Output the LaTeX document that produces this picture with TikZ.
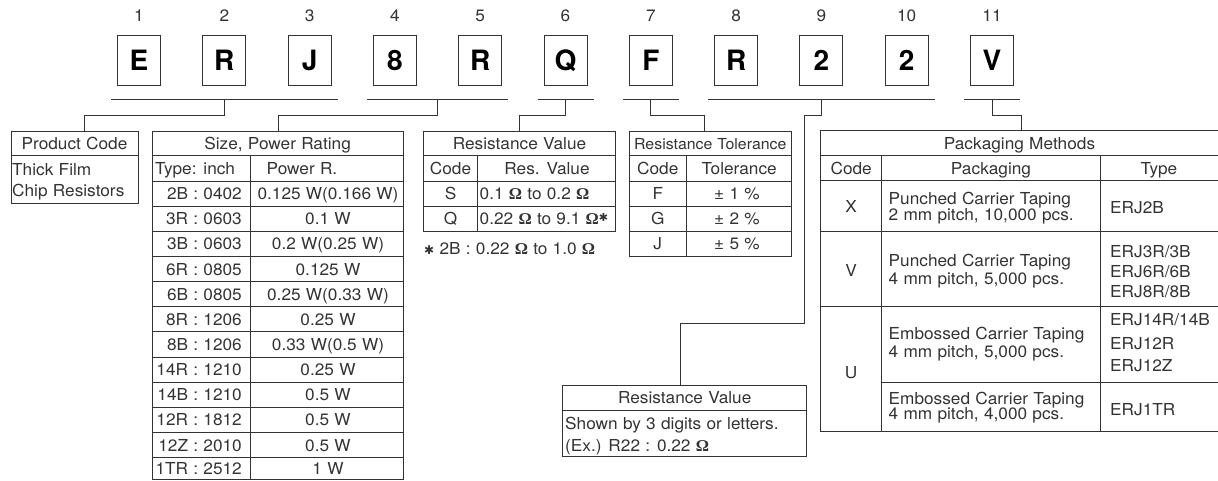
\documentclass[tikz,border=0pt]{standalone}
\usepackage{fontspec}
\usetikzlibrary{calc}
\setmainfont{TeX Gyre Heros}[FakeStretch=1.045,WordSpace=1.1]
\newfontfamily\boxfont{TeX Gyre Heros}
\newfontfamily\symfont{DejaVu Sans}
\newfontfamily\omfont{Liberation Serif}
\newcommand\fs{\fontsize{16.5}{17.5}\selectfont}
\newcommand\Om{{\omfont\bfseries Ω}}
\definecolor{ink}{gray}{0.2}
\tikzset{
  base/.style={inner sep=0pt, text=ink, font=\fs, text height=12pt, text depth=0pt},
  lft/.style={base, anchor=west},
  rgt/.style={base, anchor=east},
  letterbox/.style={draw=ink, line width=1pt, minimum width=43pt, minimum height=50pt,
    inner sep=0pt, text height=20pt, text depth=0pt,
    font=\boxfont\bfseries\fontsize{28}{28}\selectfont, text=black},
  rule/.style={draw=ink, line width=1pt},
  conn/.style={draw=ink, line width=1pt},
}
\begin{document}
\begin{tikzpicture}[x=1pt,y=-1pt]
\useasboundingbox (0,0) rectangle (1218,480);
% code letters
\foreach \i/\l in {1/E,2/R,3/J,4/8,5/R,6/Q,7/F,8/R,9/2,10/2,11/V}{
  \node[letterbox] (b\i) at ({139+85.3*(\i-1)},60) {\l};
  \node[base] (n\i) at ({139+85.3*(\i-1)},15) {\i};
}
% group rules
\foreach \g/\a/\b in {1/1/3,2/4/5,3/6/6,4/7/7,5/8/10,6/11/11}{
  \coordinate (gl\g) at ($(b\a.center)+(-28,39)$);
  \coordinate (gr\g) at ($(b\b.center)+(28,39)$);
  \coordinate (g\g) at ($(gl\g)!0.5!(gr\g)$);
  \draw[rule] (gl\g) -- (gr\g);
}
% connector targets
\coordinate (pcin) at (84,131);
\coordinate (szin) at (278,131);
\coordinate (rvin) at (519.5,131);
\coordinate (tlin) at (704.3,131);
\coordinate (pkin) at (1021,130.7);
\coordinate (rbin) at (680,385.3);
\draw[conn] (g1) -- ++(0,16) -| (pcin);
\draw[conn] (g2) -- ++(0,16) -| (szin);
\draw[conn] (g3) -- ++(0,16) -| (rvin);
\draw[conn] (g4) -- ++(0,16) -| (tlin);
\draw[conn] (g6) -- ++(0,16) -| (pkin);
\draw[conn] (g5) -- ++(0,16) -- (804,115) -- (804,323) -| (rbin);

% ---------- Product Code
\draw[rule] (11,131) rectangle (138,203);
\draw[rule] (11,155.5) -- (138,155.5);
\node[base] (pch) at (74.5,143) {Product Code};
\node[lft] (pc1) at (12,169) {Thick Film};
\node[lft] (pc2) at (12,190) {Chip Resistors};

% ---------- Size, Power Rating
\draw[rule] (152,131) rectangle (403.3,479);
\draw[rule] (152,155.5) -- (403.3,155.5);
\draw[rule] (250,155.5) -- (250,479);
\foreach \k in {0,...,11}{\draw[rule] (152,181+25.15*\k) -- (403.3,181+25.15*\k);}
\node[base] (szh) at (277.6,143) {Size, Power Rating};
\node[lft] (szt) at (155,168.2) {Type: inch};
\node[base] (szp) at (302,168.2) {Power R.};
\foreach \a/\b [count=\k from 0] in {2B : 0402/0.125 W(0.166 W),3R : 0603/0.1 W,3B : 0603/0.2 W(0.25 W),6R : 0805/0.125 W,6B : 0805/0.25 W(0.33 W),8R : 1206/0.25 W,8B : 1206/0.33 W(0.5 W),14R : 1210/0.25 W,14B : 1210/0.5 W,12R : 1812/0.5 W,12Z : 2010/0.5 W}{
  \node[rgt] (sa\k) at (242,193.6+25.15*\k) {\a};
  \node[base] (sb\k) at (328,193.6+25.15*\k) {\b};
}
\node[rgt] (sa11) at (242,468.5) {1TR : 2512};
\node[base] (sb11) at (328,468.5) {1 W};

% ---------- Resistance Value
\draw[rule] (423.3,131) rectangle (615.7,231);
\draw[rule] (423.3,155.3) -- (615.7,155.3);
\draw[rule] (423.3,181) -- (615.7,181);
\draw[rule] (423.3,206) -- (615.7,206);
\draw[rule] (477.7,155.3) -- (477.7,231);
\node[base] (rvh) at (519.5,143) {Resistance Value};
\node[base] (rvc) at (450.5,168.2) {Code};
\node[base] (rvr) at (547,168.2) {Res. Value};
\node[base] (rv1) at (450.5,193.5) {S};
\node[lft] (rv2) at (479.5,193.5) {0.1 \Om\ to 0.2 \Om};
\node[base] (rv3) at (450.5,218.5) {Q};
\node[lft] (rv4) at (479.5,218.5) {0.22 \Om\ to 9.1 \Om\raisebox{3pt}{\symfont\fontsize{11}{11}\selectfont ✱}};
\node[lft] (rvf) at (424,248) {{\symfont\fontsize{12}{12}\selectfont ✱} 2B : 0.22 \Om\ to 1.0 \Om};

% ---------- Resistance Tolerance
\draw[rule] (629,131) rectangle (791.7,256);
\draw[rule] (629,155.3) -- (791.7,155.3);
\foreach \yy in {181,206,231}{\draw[rule] (629,\yy) -- (791.7,\yy);}
\draw[rule] (686.7,155.3) -- (686.7,256);
\node[base, font=\fontsize{15.2}{15.5}\selectfont] (tlh) at (710.3,143) {Resistance Tolerance};
\node[base] (tlc) at (657.8,168.2) {Code};
\node[base] (tlt) at (739.2,168.2) {Tolerance};
\foreach \c/\t [count=\k from 0] in {F/1,G/2,J/5}{
  \node[base] (tc\k) at (657.8,193.5+25*\k) {\c};
  \node[base] (tv\k) at (737,193.5+25*\k) {± \t\ \%};
}

% ---------- Packaging Methods
\draw[rule] (1218,130.7) -- (820.7,130.7) -- (820.7,431.7) -- (1218,431.7);
\draw[rule] (820.7,155) -- (1218,155);
\draw[rule] (820.7,180) -- (1218,180);
\draw[rule] (820.7,231) -- (1218,231);
\draw[rule] (820.7,306.5) -- (1218,306.5);
\draw[rule] (881.5,382) -- (1218,382);
\draw[rule] (881.5,155) -- (881.5,431.7);
\draw[rule] (1100.5,155) -- (1100.5,431.7);
\node[base] (pkh) at (1019.5,143) {Packaging Methods};
\node[base] (pkc) at (851.2,168) {Code};
\node[base] (pkp) at (991,168) {Packaging};
\node[base] (pkt) at (1159,168) {Type};
% X
\node[base] (px) at (851.2,206.5) {X};
\node[lft] (px1) at (888.5,198.5) {Punched Carrier Taping};
\node[lft] (px2) at (888.5,214.5) {2 mm pitch, 10,000 pcs.};
\node[lft] (px3) at (1110,207) {ERJ2B};
% V
\node[base] (pv) at (851.2,270.5) {V};
\node[lft] (pv1) at (888.5,260) {Punched Carrier Taping};
\node[lft] (pv2) at (888.5,278) {4 mm pitch, 5,000 pcs.};
\node[lft] (pv3) at (1110,251.5) {ERJ3R/3B};
\node[lft] (pv4) at (1110,271) {ERJ6R/6B};
\node[lft] (pv5) at (1110,291) {ERJ8R/8B};
% U
\node[base] (pu) at (851.2,372) {U};
\node[lft] (pu1) at (888.5,333) {Embossed Carrier Taping};
\node[lft] (pu2) at (888.5,351) {4 mm pitch, 5,000 pcs.};
\node[lft] (pu3) at (1110,319) {ERJ14R/14B};
\node[lft] (pu4) at (1110,343) {ERJ12R};
\node[lft] (pu5) at (1110,365) {ERJ12Z};
\node[lft] (pu6) at (888.5,398) {Embossed Carrier Taping};
\node[lft] (pu7) at (888.5,413.5) {4 mm pitch, 4,000 pcs.};
\node[lft] (pu8) at (1110,409) {ERJ1TR};

% ---------- Resistance Value (digits)
\draw[rule] (562.7,385.3) rectangle (806.7,456);
\draw[rule] (562.7,410) -- (806.7,410);
\node[base] (rbh) at (684.7,397.7) {Resistance Value};
\node[lft] (rb1) at (565,423) {Shown by 3 digits or letters.};
\node[lft] (rb2) at (565,445) {(Ex.) R22 : 0.22 \Om};
\end{tikzpicture}
\end{document}
